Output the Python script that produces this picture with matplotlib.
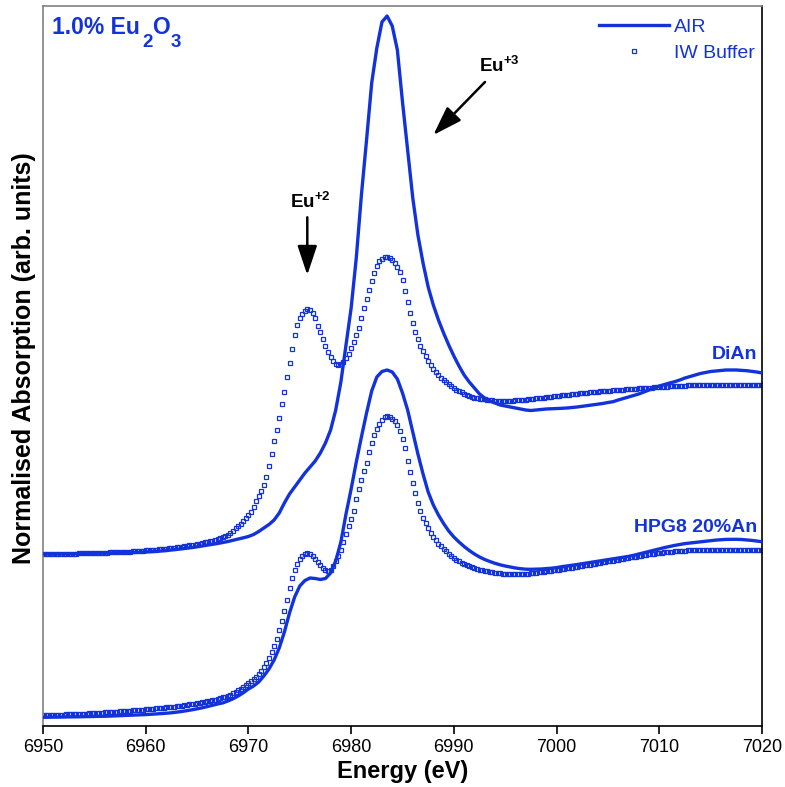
import numpy as np
import matplotlib
matplotlib.use("Agg")
import matplotlib.pyplot as plt

plt.rcParams['font.family'] = ['Liberation Sans', 'DejaVu Sans']
plt.rcParams['mathtext.fontset'] = 'custom'
plt.rcParams['mathtext.rm'] = 'Liberation Sans'
plt.rcParams['mathtext.bf'] = 'Liberation Sans:bold'

# ---------------- data ----------------
x_ticks = [6950, 6960, 6970, 6980, 6990, 7000, 7010, 7020]
x_tick_labels = ['6950', '6960', '6970', '6980', '6990', '7000', '7010', '7020']

# energy grid of the AIR scans (0.5 eV steps)
energy_air = np.arange(6950.0, 7020.01, 0.5)
# energy grid of the IW-buffer scans (0.25 eV steps)
energy_iw = np.arange(6950.0, 7020.01, 0.25)

dian_air = [
    1.72, 1.72, 1.72, 1.72, 1.72, 1.722, 1.723, 1.724, 1.725, 1.726,
    1.727, 1.728, 1.729, 1.73, 1.731, 1.732, 1.733, 1.734, 1.735, 1.737,
    1.74, 1.743, 1.747, 1.75, 1.755, 1.76, 1.766, 1.772, 1.778, 1.784,
    1.792, 1.80, 1.808, 1.817, 1.825, 1.835, 1.845, 1.857, 1.87, 1.882,
    1.895, 1.915, 1.945, 1.98, 2.015, 2.06, 2.13, 2.23, 2.32, 2.39,
    2.46, 2.53, 2.59, 2.65, 2.73, 2.83, 2.96, 3.16, 3.44, 3.81,
    4.18, 4.68, 5.31, 5.86, 6.43, 6.78, 7.04, 7.10, 7.00, 6.76,
    6.24, 5.76, 5.28, 4.91, 4.63, 4.39, 4.21, 4.06, 3.93, 3.81,
    3.70, 3.60, 3.51, 3.44, 3.38, 3.32, 3.28, 3.25, 3.23, 3.21,
    3.20, 3.19, 3.18, 3.17, 3.16, 3.155, 3.16, 3.165, 3.17, 3.172,
    3.175, 3.177, 3.18, 3.185, 3.19, 3.197, 3.203, 3.21, 3.218, 3.225,
    3.235, 3.243, 3.26, 3.275, 3.29, 3.305, 3.32, 3.34, 3.36, 3.38,
    3.40, 3.415, 3.43, 3.443, 3.46, 3.48, 3.495, 3.51, 3.525, 3.535,
    3.545, 3.55, 3.555, 3.56, 3.56, 3.56, 3.557, 3.553, 3.547, 3.54,
    3.53]

hpg8_air = [
    0.087, 0.088, 0.089, 0.089, 0.09, 0.091, 0.091, 0.092, 0.093, 0.094,
    0.095, 0.096, 0.097, 0.099, 0.101, 0.103, 0.105, 0.107, 0.109, 0.111,
    0.114, 0.117, 0.12, 0.124, 0.128, 0.132, 0.138, 0.145, 0.153, 0.162,
    0.172, 0.182, 0.194, 0.207, 0.22, 0.231, 0.25, 0.272, 0.30, 0.332,
    0.37, 0.40, 0.44, 0.50, 0.57, 0.66, 0.78, 0.94, 1.13, 1.29,
    1.40, 1.455, 1.48, 1.475, 1.465, 1.475, 1.53, 1.65, 1.84, 2.12,
    2.37, 2.64, 2.89, 3.13, 3.35, 3.49, 3.545, 3.56, 3.54, 3.47,
    3.33, 3.16, 2.94, 2.72, 2.52, 2.34, 2.21, 2.11, 2.025, 1.95,
    1.89, 1.84, 1.795, 1.755, 1.72, 1.69, 1.665, 1.645, 1.627, 1.612,
    1.60, 1.59, 1.58, 1.573, 1.568, 1.567, 1.568, 1.57, 1.574, 1.578,
    1.584, 1.593, 1.60, 1.607, 1.615, 1.623, 1.632, 1.64, 1.648, 1.656,
    1.664, 1.672, 1.68, 1.688, 1.696, 1.707, 1.72, 1.733, 1.747, 1.76,
    1.772, 1.784, 1.795, 1.806, 1.815, 1.824, 1.83, 1.835, 1.842, 1.848,
    1.854, 1.859, 1.863, 1.866, 1.867, 1.867, 1.865, 1.861, 1.856, 1.85,
    1.843]

dian_iw = [
    # 6950 - 6967.75
    1.72, 1.72, 1.72, 1.72, 1.721, 1.721, 1.722, 1.722, 1.723, 1.723,
    1.724, 1.724, 1.725, 1.725, 1.726, 1.726, 1.727, 1.728, 1.729, 1.729,
    1.73, 1.731, 1.732, 1.733, 1.734, 1.735, 1.736, 1.737, 1.738, 1.739,
    1.74, 1.741, 1.742, 1.743, 1.745, 1.746, 1.748, 1.75, 1.752, 1.754,
    1.756, 1.758, 1.76, 1.762, 1.765, 1.767, 1.77, 1.772, 1.775, 1.777,
    1.78, 1.783, 1.787, 1.79, 1.794, 1.798, 1.802, 1.806, 1.81, 1.815,
    1.82, 1.825, 1.83, 1.836, 1.842, 1.848, 1.855, 1.862, 1.87, 1.879,
    1.888, 1.899,
    # 6968 - 6991.75
    1.91, 1.93, 1.955, 1.98,
    2.00, 2.02, 2.05, 2.08,
    2.11, 2.14, 2.19, 2.25,
    2.30, 2.35, 2.41, 2.49,
    2.60, 2.72, 2.85, 2.96,
    3.08, 3.22, 3.34, 3.49,
    3.63, 3.77, 3.91, 4.01,
    4.08, 4.125, 4.155, 4.175,
    4.165, 4.13, 4.08, 4.00,
    3.94, 3.87, 3.80, 3.74,
    3.69, 3.65, 3.62, 3.61,
    3.62, 3.64, 3.68, 3.725,
    3.78, 3.84, 3.91, 3.98,
    4.08, 4.18, 4.27, 4.36,
    4.45, 4.53, 4.60, 4.65,
    4.675, 4.69, 4.695, 4.68,
    4.66, 4.63, 4.59, 4.54,
    4.46, 4.35, 4.24, 4.13,
    4.03, 3.94, 3.87, 3.80,
    3.75, 3.70, 3.65, 3.61,
    3.57, 3.54, 3.51, 3.485,
    3.46, 3.44, 3.42, 3.40,
    3.38, 3.365, 3.35, 3.34,
    3.325, 3.315, 3.305, 3.295,
    # 6992 - 7020
    3.285, 3.28, 3.275, 3.271, 3.267, 3.263, 3.26, 3.257, 3.255, 3.253,
    3.252, 3.252, 3.252, 3.253, 3.254, 3.255, 3.257, 3.258, 3.26, 3.262,
    3.265, 3.267, 3.27, 3.273, 3.276, 3.279, 3.282, 3.285, 3.288, 3.291,
    3.294, 3.297, 3.30, 3.303, 3.306, 3.309, 3.312, 3.315, 3.318, 3.321,
    3.324, 3.327, 3.33, 3.332, 3.335, 3.337, 3.34, 3.342, 3.344, 3.346,
    3.348, 3.35, 3.352, 3.354, 3.356, 3.358, 3.36, 3.362, 3.364, 3.366,
    3.368, 3.37, 3.372, 3.374, 3.376, 3.378, 3.38, 3.382, 3.384, 3.385,
    3.387, 3.388, 3.39, 3.391, 3.393, 3.394, 3.396, 3.397, 3.399, 3.40,
    3.402, 3.403, 3.405, 3.406, 3.407, 3.408, 3.409, 3.41, 3.41, 3.411,
    3.412, 3.412, 3.413, 3.413, 3.414, 3.414, 3.415, 3.415, 3.415, 3.415,
    3.415, 3.415, 3.415, 3.415, 3.414, 3.414, 3.413, 3.413, 3.412, 3.411,
    3.41, 3.409, 3.408]

hpg8_iw = [
    # 6950 - 6967.75
    0.107, 0.108, 0.109, 0.110, 0.111, 0.112, 0.113, 0.114, 0.115, 0.116,
    0.117, 0.118, 0.119, 0.12, 0.121, 0.122, 0.124, 0.125, 0.127, 0.128,
    0.13, 0.131, 0.133, 0.134, 0.136, 0.137, 0.139, 0.141, 0.143, 0.145,
    0.147, 0.148, 0.15, 0.152, 0.154, 0.156, 0.158, 0.16, 0.162, 0.164,
    0.166, 0.168, 0.171, 0.173, 0.176, 0.178, 0.181, 0.183, 0.186, 0.189,
    0.192, 0.195, 0.198, 0.201, 0.204, 0.208, 0.212, 0.216, 0.22, 0.224,
    0.228, 0.232, 0.237, 0.241, 0.246, 0.252, 0.258, 0.265, 0.272, 0.279,
    0.287, 0.295,
    # 6968 - 6991.75
    0.304, 0.315, 0.328, 0.342,
    0.357, 0.373, 0.392, 0.41,
    0.43, 0.45, 0.47, 0.49,
    0.52, 0.55, 0.59, 0.635,
    0.685, 0.74, 0.80, 0.875,
    0.96, 1.05, 1.15, 1.26,
    1.38, 1.48, 1.56, 1.625,
    1.675, 1.705, 1.722, 1.727,
    1.718, 1.698, 1.67, 1.64,
    1.61, 1.58, 1.557, 1.55,
    1.565, 1.60, 1.65, 1.70,
    1.76, 1.84, 1.925, 2.00,
    2.07, 2.15, 2.27, 2.375,
    2.46, 2.55, 2.63, 2.74,
    2.83, 2.91, 2.97, 3.02,
    3.06, 3.09, 3.10, 3.095,
    3.075, 3.05, 3.01, 2.95,
    2.87, 2.78, 2.65, 2.54,
    2.43, 2.335, 2.235, 2.15,
    2.08, 2.03, 1.98, 1.935,
    1.895, 1.86, 1.825, 1.797,
    1.77, 1.747, 1.725, 1.703,
    1.683, 1.665, 1.65, 1.635,
    1.622, 1.61, 1.598, 1.588,
    # 6992 - 7020
    1.578, 1.571, 1.564, 1.558, 1.552, 1.547, 1.542, 1.538, 1.534, 1.530,
    1.527, 1.524, 1.522, 1.52, 1.518, 1.517, 1.517, 1.517, 1.518, 1.52,
    1.522, 1.525, 1.528, 1.531, 1.534, 1.537, 1.54, 1.543, 1.547, 1.55,
    1.554, 1.557, 1.561, 1.564, 1.568, 1.572, 1.576, 1.58, 1.584, 1.588,
    1.593, 1.597, 1.602, 1.606, 1.611, 1.615, 1.62, 1.624, 1.628, 1.632,
    1.637, 1.641, 1.646, 1.65, 1.655, 1.659, 1.664, 1.668, 1.673, 1.677,
    1.682, 1.686, 1.691, 1.695, 1.70, 1.704, 1.708, 1.712, 1.716, 1.72,
    1.723, 1.726, 1.73, 1.733, 1.736, 1.739, 1.742, 1.745, 1.747, 1.749,
    1.751, 1.753, 1.755, 1.757, 1.758, 1.759, 1.76, 1.761, 1.762, 1.763,
    1.763, 1.764, 1.764, 1.765, 1.765, 1.765, 1.765, 1.765, 1.765, 1.765,
    1.765, 1.765, 1.764, 1.764, 1.763, 1.763, 1.762, 1.762, 1.761, 1.76,
    1.76, 1.759, 1.758]

legend_labels = ['AIR', 'IW Buffer']
sample_labels = ['DiAn', 'HPG8 20%An']

# ---------------- figure ----------------
BLUE = '#1232dc'
W, H = 785, 787
fig = plt.figure(figsize=(W / 100, H / 100), dpi=100)
ax = fig.add_axes([43 / W, (H - 726) / H, 719 / W, 720.5 / H])

line_air, = ax.plot(energy_air, dian_air, '-', color=BLUE, lw=2.4, zorder=3)
ax.plot(energy_air, hpg8_air, '-', color=BLUE, lw=2.4, zorder=3)
mk_iw, = ax.plot(energy_iw, dian_iw, 's', mfc='none', mec=BLUE, ms=3.3, mew=0.9,
                 ls='none', zorder=2)
ax.plot(energy_iw, hpg8_iw, 's', mfc='none', mec=BLUE, ms=3.3, mew=0.9,
        ls='none', zorder=2)

ax.set_xlim(6950, 7020)
ax.set_ylim(0, 7.205)
ax.set_xticks(x_ticks)
ax.set_xticklabels(x_tick_labels)
ax.set_yticks([])
ax.tick_params(axis='x', direction='out', length=6, width=1.2, labelsize=13, pad=3)

for s in ['left', 'top']:
    ax.spines[s].set_color('#808080')
for s in ['right', 'bottom']:
    ax.spines[s].set_color('black')
for s in ax.spines.values():
    s.set_linewidth(1.2)

ax.set_xlabel('Energy (eV)', fontsize=17, fontweight='bold', labelpad=3)
ax.set_ylabel('Normalised Absorption (arb. units)', fontsize=18, fontweight='bold')
ax.yaxis.set_label_coords(-0.01, 0.51)

leg = ax.legend([line_air, mk_iw], legend_labels, loc='upper right',
                bbox_to_anchor=(0.9895, 0.9825), frameon=False, fontsize=14,
                labelcolor=BLUE, handlelength=3.6, handletextpad=0.26,
                labelspacing=0.45, borderpad=0, borderaxespad=0, numpoints=1)

# sample names
ax.text(7019.5, 3.667, sample_labels[0], color=BLUE, fontsize=14, fontweight='bold',
        ha='right', va='baseline')
ax.text(7019.5, 1.937, sample_labels[1], color=BLUE, fontsize=14, fontweight='bold',
        ha='right', va='baseline')

# title with dropped subscripts
def figtext(px, py, s, size):
    fig.text(px / W, (H - py) / H, s, color=BLUE, fontsize=size, fontweight='bold',
             ha='left', va='baseline')

figtext(52, 34.3, '1.0% Eu', 16.5)
figtext(142.5, 46.7, '2', 13.5)
figtext(152, 34.3, 'O', 16.5)
figtext(171, 46.7, '3', 13.5)

# oxidation-state annotations
ax.text(6974.05, 5.185, r'$\mathbf{Eu^{+2}}$', fontsize=13.5, color='black',
        ha='left', va='baseline')
ax.text(6992.45, 6.537, r'$\mathbf{Eu^{+3}}$', fontsize=13.5, color='black',
        ha='left', va='baseline')
arrow = dict(arrowstyle='-|>,head_length=0.45,head_width=0.15', color='black',
             lw=1.8, mutation_scale=40, shrinkA=0, shrinkB=0)
ax.annotate('', xy=(6975.73, 4.51), xytext=(6975.73, 5.087), arrowprops=arrow)
ax.annotate('', xy=(6988.0, 5.91), xytext=(6993.03, 6.44), arrowprops=arrow)

fig.savefig('out.png', dpi=100)
